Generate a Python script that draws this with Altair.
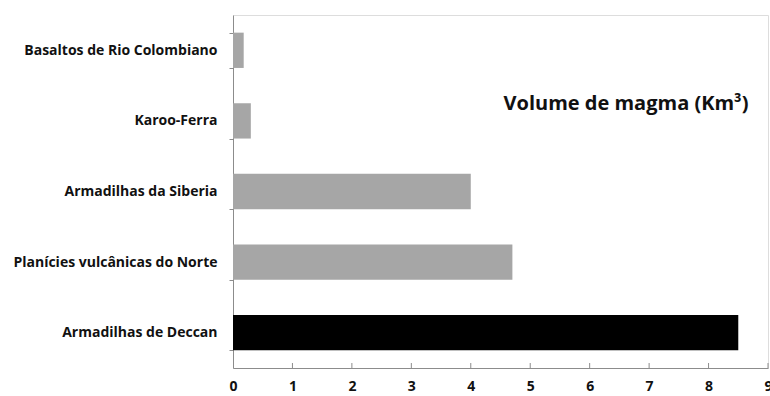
import altair as alt
import pandas as pd

# Large igneous provinces and their magma volume (millions of km³)
provinces = [
    "Basaltos de Rio Colombiano",
    "Karoo-Ferra",
    "Armadilhas da Siberia",
    "Planícies vulcânicas do Norte",
    "Armadilhas de Deccan",
]
volumes = [0.18, 0.3, 4.0, 4.7, 8.5]
highlight = [False, False, False, False, True]
x_ticks = [1, 2, 3, 4, 5, 6, 7, 8, 9]

df = pd.DataFrame({"provincia": provinces, "volume": volumes, "destaque": highlight})
ticks_df = pd.DataFrame({"t": x_ticks})

FONT = "Open Sans"
AXIS_GRAY = "#8c8c8c"
W, H = 535, 353

x_scale = alt.Scale(domain=[0, 9], nice=False, zero=True)

bars = alt.Chart(df).mark_bar().encode(
    x=alt.X("volume:Q", scale=x_scale,
            axis=alt.Axis(values=list(range(0, 10)), format="d", title=None,
                          grid=False, tickSize=0, labelPadding=11,
                          labelFont=FONT, labelFontSize=14, labelFontWeight="bold",
                          labelColor="#111111", domainColor=AXIS_GRAY,
                          labelFlush=False)),
    y=alt.Y("provincia:N", sort=provinces, title=None,
            scale=alt.Scale(paddingInner=0.5, paddingOuter=0.25),
            axis=alt.Axis(tickBand="extent", tickSize=4, tickColor=AXIS_GRAY,
                          domainColor=AXIS_GRAY, labelPadding=12, labelLimit=300,
                          labelFont=FONT, labelFontSize=14, labelFontWeight="bold",
                          labelColor="#111111")),
    color=alt.Color("destaque:N",
                    scale=alt.Scale(domain=[False, True], range=["#a6a6a6", "#000000"]),
                    legend=None),
)

# inward-pointing ticks on the value axis
inner_ticks = alt.Chart(ticks_df).mark_rule(color=AXIS_GRAY, strokeWidth=1).encode(
    x=alt.X("t:Q", scale=x_scale),
    y=alt.value(H - 5),
    y2=alt.value(H),
)

label = alt.Chart(pd.DataFrame({"txt": ["Volume de magma (Km³)"]})).mark_text(
    font=FONT, fontSize=20, fontWeight="bold", color="#111111", align="center",
    baseline="middle"
).encode(x=alt.value(393), y=alt.value(89), text="txt:N")

chart = alt.layer(bars, inner_ticks, label).properties(
    width=W, height=H,
    autosize=alt.AutoSizeParams(type="none"),
    padding={"left": 233, "top": 15, "right": 2, "bottom": 28},
).configure_view(stroke=None).configure(background="white")

chart.save("out.html", embed_options={"renderer": "svg", "actions": False})
